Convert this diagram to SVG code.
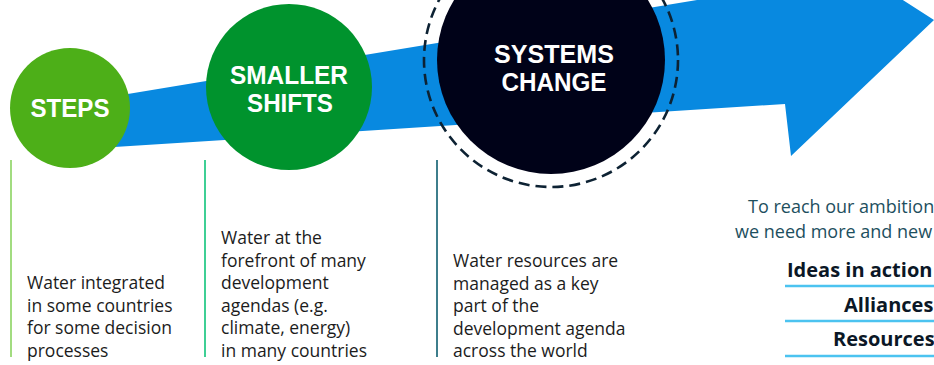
<svg xmlns="http://www.w3.org/2000/svg" width="934" height="365" viewBox="0 0 934 365">
  <style>
    .hdr { font-family: "Liberation Sans", Arial, sans-serif; font-weight: 700; font-size: 25px; fill: #ffffff; text-anchor: middle; }
    .body { font-family: "Open Sans", "Liberation Sans", sans-serif; font-size: 17.5px; fill: #1c1c1c; }
    .lead { font-family: "Open Sans", "Liberation Sans", sans-serif; font-size: 18px; fill: #1d4f5e; }
    .list { font-family: "Open Sans", "Liberation Sans", sans-serif; font-size: 20px; font-weight: 700; fill: #0b1726; }
    .rule { stroke: #4cc3f0; stroke-width: 2.5; }
    .divider { stroke-width: 2; fill: none; }
  </style>

  <rect width="934" height="365" fill="#ffffff"/>

  <g id="connectors">
    <polygon id="arrow" points="75,102.7 800,-17 800,-66 934,20 791,156 785,104 75,149.5" fill="#0889e0"/>
  </g>

  <g id="systems-change">
    <circle cx="551" cy="60" r="127" fill="none" stroke="#0d2233" stroke-width="2.6" stroke-dasharray="11 6"/>
    <circle cx="551" cy="60" r="114" fill="#000218"/>
    <text class="hdr" x="554" y="63" textLength="120" lengthAdjust="spacingAndGlyphs">SYSTEMS</text>
    <text class="hdr" x="554" y="91" textLength="105" lengthAdjust="spacingAndGlyphs">CHANGE</text>
    <line class="divider" x1="437" y1="160" x2="437" y2="357" stroke="#3d7e8c"/>
    <text class="body" x="453">
      <tspan x="453" y="267">Water resources are</tspan>
      <tspan x="453" y="290">managed as a key</tspan>
      <tspan x="453" y="312">part of the</tspan>
      <tspan x="453" y="335">development agenda</tspan>
      <tspan x="453" y="357">across the world</tspan>
    </text>
  </g>

  <g id="steps">
    <circle cx="70" cy="108" r="60" fill="#4daf18"/>
    <text class="hdr" x="70" y="117" textLength="79" lengthAdjust="spacingAndGlyphs">STEPS</text>
    <line class="divider" x1="11" y1="160" x2="11" y2="357" stroke="#a2dc80"/>
    <text class="body" x="27">
      <tspan x="27" y="289">Water integrated</tspan>
      <tspan x="27" y="312">in some countries</tspan>
      <tspan x="27" y="334">for some decision</tspan>
      <tspan x="27" y="357">processes</tspan>
    </text>
  </g>

  <g id="smaller-shifts">
    <circle cx="289" cy="87" r="83" fill="#00932d"/>
    <text class="hdr" x="289" y="84" textLength="118" lengthAdjust="spacingAndGlyphs">SMALLER</text>
    <text class="hdr" x="290" y="112" textLength="86" lengthAdjust="spacingAndGlyphs">SHIFTS</text>
    <line class="divider" x1="205" y1="160" x2="205" y2="357" stroke="#3fcf95"/>
    <text class="body" x="221">
      <tspan x="221" y="244">Water at the</tspan>
      <tspan x="221" y="267">forefront of many</tspan>
      <tspan x="221" y="289">development</tspan>
      <tspan x="221" y="312">agendas (e.g.</tspan>
      <tspan x="221" y="334">climate, energy)</tspan>
      <tspan x="221" y="357">in many countries</tspan>
    </text>
  </g>

  <g id="needs">
    <text class="lead" x="748" y="213">To reach our ambition</text>
    <text class="lead" x="735" y="238">we need more and new</text>
    <text class="list" x="787" y="277">Ideas in action</text>
    <line class="rule" x1="785" y1="286" x2="934" y2="286"/>
    <text class="list" x="844" y="312">Alliances</text>
    <line class="rule" x1="785" y1="321" x2="934" y2="321"/>
    <text class="list" x="833" y="346">Resources</text>
    <line class="rule" x1="785" y1="356" x2="934" y2="356"/>
  </g>
</svg>
